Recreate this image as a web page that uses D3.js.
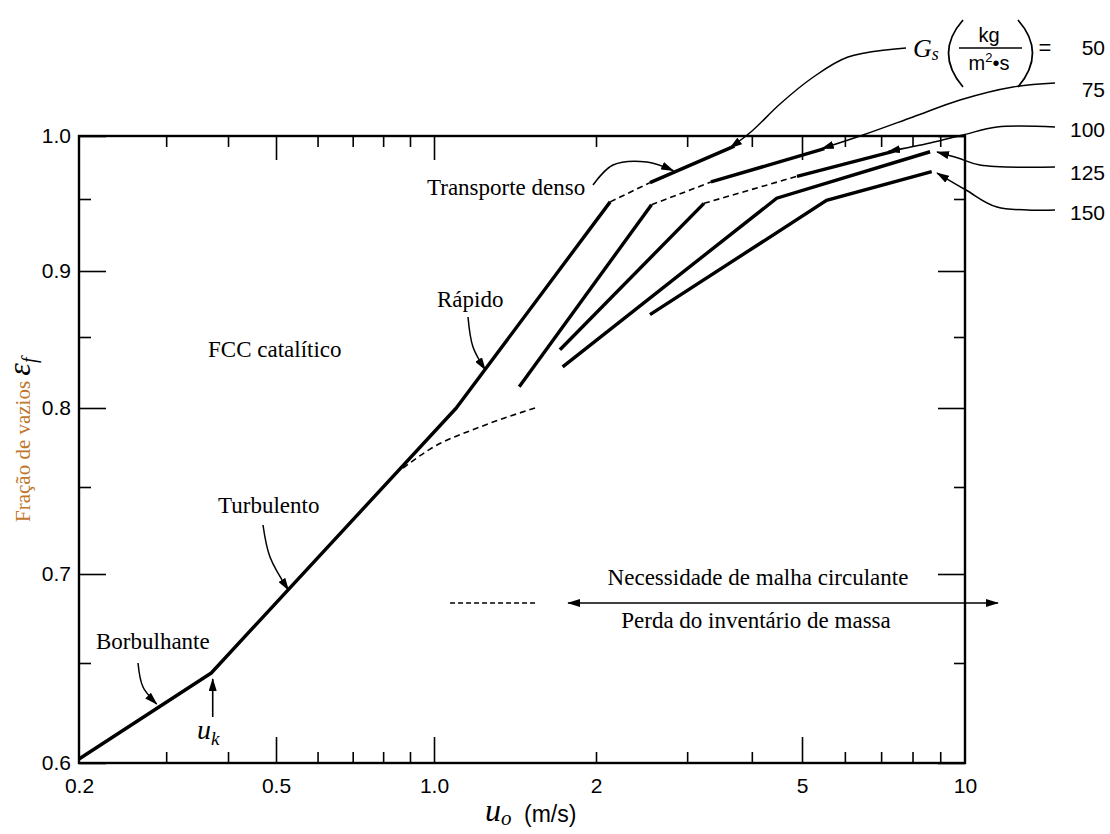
<!DOCTYPE html>
<html>
<head>
<meta charset="utf-8">
<script src="https://cdn.jsdelivr.net/npm/d3@7"></script>
<style>
  body { margin: 0; background: #fff; }
  svg { display: block; }
</style>
</head>
<body>
<svg id="chart" width="1110" height="834"></svg>
<script>
// ---- axis values ----
const uAnchors = [0.2, 0.5, 1, 2, 5, 10];
const uTickLabels = ["0.2", "0.5", "1.0", "2", "5", "10"];
const uTicksLong = [0.5, 1, 5];
const uTicksShort = [0.3, 0.4, 0.6, 0.7, 0.8, 0.9, 2, 3, 4, 6, 7, 8, 9];
const epsAnchors = [0.6, 0.65, 0.7, 0.75, 0.8, 0.85, 0.9, 0.95, 1.0];
const epsTicksLong = [0.6, 0.7, 0.8, 0.9, 1.0];
const epsTicksShort = [0.65, 0.75, 0.85, 0.95];
const epsTickLabels = ["0.6", "0.7", "0.8", "0.9", "1.0"];

// ---- main regime curve: bubbling -> turbulent -> fast (Gs = 50) ----
const mainU   = [0.2,   0.37,  1.1,  2.13];
const mainEps = [0.602, 0.645, 0.80, 0.948];

// ---- dashed branch leaving the turbulent line ----
const branchU   = [0.873, 0.983, 1.218, 1.541];
const branchEps = [0.762, 0.774, 0.788, 0.800];

// ---- solids circulation rate Gs (kg/m2 s) ----
const gsValues = [50, 75, 100, 125, 150];
// fast-fluidization (steep) segments
const fastU   = { 75: [1.44, 2.56],   100: [1.714, 3.233], 125: [1.734, 4.468], 150: [2.543, 5.55] };
const fastEps = { 75: [0.815, 0.946], 100: [0.841, 0.947], 125: [0.829, 0.9506], 150: [0.867, 0.949] };
// dashed transitions into dense transport
const transU   = { 50: [2.13, 2.543],  75: [2.56, 3.335],   100: [3.233, 4.89] };
const transEps = { 50: [0.948, 0.963], 75: [0.946, 0.9635], 100: [0.947, 0.968] };
// dense-transport (upper) segments
const denseU   = { 50: [2.543, 3.70],  75: [3.335, 5.5],   100: [4.89, 7.4],   125: [4.468, 8.62],   150: [5.55, 8.68] };
const denseEps = { 50: [0.963, 0.992], 75: [0.9635, 0.990], 100: [0.968, 0.988], 125: [0.9506, 0.9875], 150: [0.949, 0.9717] };
// where each Gs leader arrow touches its line
const gsTipU   = [3.63, 5.44, 7.21, 8.88, 8.88];
const gsTipEps = [0.9905, 0.990, 0.9877, 0.9873, 0.9706];

// ---- layout ----
const frame = { left: 79, right: 965, top: 136, bottom: 763 };
const xRange = [79, 276, 434, 596, 802, 965];
const yRange = [763, 663, 574, 487, 408, 337, 271, 199, 136];

const svg = d3.select("#chart");
svg.append("rect").attr("width", 1110).attr("height", 834).attr("fill", "#fff");

const x = d3.scaleLog().domain(uAnchors).range(xRange);
const y = d3.scaleLinear().domain(epsAnchors).range(yRange);

// arrowhead markers
const defs = svg.append("defs");
defs.append("marker")
  .attr("id", "head")
  .attr("viewBox", "0 0 13 8")
  .attr("refX", 12).attr("refY", 4)
  .attr("markerWidth", 13).attr("markerHeight", 8)
  .attr("markerUnits", "userSpaceOnUse")
  .attr("orient", "auto")
  .append("path").attr("d", "M0,0 L13,4 L0,8 Z").attr("fill", "#000");
defs.append("marker")
  .attr("id", "headStart")
  .attr("viewBox", "0 0 13 8")
  .attr("refX", 1).attr("refY", 4)
  .attr("markerWidth", 13).attr("markerHeight", 8)
  .attr("markerUnits", "userSpaceOnUse")
  .attr("orient", "auto")
  .append("path").attr("d", "M13,0 L0,4 L13,8 Z").attr("fill", "#000");

// ---- axes (ticks point into the plot) ----
const tickFont = "'Liberation Sans', Arial, sans-serif";
function styleAxis(g) {
  g.select(".domain").remove();
  g.selectAll(".tick line").attr("stroke", "#000").attr("stroke-width", 1.6);
  g.selectAll("text").attr("font-family", tickFont).attr("font-size", 21).attr("fill", "#000");
}
// bottom
svg.append("g").attr("transform", `translate(0,${frame.bottom})`)
  .call(d3.axisBottom(x).tickValues(uTicksShort).tickSize(-11).tickFormat("")).call(styleAxis);
svg.append("g").attr("transform", `translate(0,${frame.bottom})`)
  .call(d3.axisBottom(x).tickValues(uTicksLong).tickSize(-26).tickFormat("")).call(styleAxis);
svg.append("g").attr("transform", `translate(0,${frame.bottom})`)
  .call(d3.axisBottom(x).tickValues(uAnchors).tickSize(0).tickPadding(15)
    .tickFormat((d, i) => uTickLabels[i])).call(styleAxis);
// top
svg.append("g").attr("transform", `translate(0,${frame.top})`)
  .call(d3.axisTop(x).tickValues(uTicksShort).tickSize(-11).tickFormat("")).call(styleAxis);
svg.append("g").attr("transform", `translate(0,${frame.top})`)
  .call(d3.axisTop(x).tickValues(uTicksLong).tickSize(-24).tickFormat("")).call(styleAxis);
// left
svg.append("g").attr("transform", `translate(${frame.left},0)`)
  .call(d3.axisLeft(y).tickValues(epsTicksShort).tickSize(-12).tickFormat("")).call(styleAxis);
svg.append("g").attr("transform", `translate(${frame.left},0)`)
  .call(d3.axisLeft(y).tickValues(epsTicksLong).tickSize(-27).tickFormat("")).call(styleAxis);
svg.append("g").attr("transform", `translate(${frame.left},0)`)
  .call(d3.axisLeft(y).tickValues(epsTicksLong).tickSize(0).tickPadding(8)
    .tickFormat((d, i) => epsTickLabels[i])).call(styleAxis);
// right
svg.append("g").attr("transform", `translate(${frame.right},0)`)
  .call(d3.axisRight(y).tickValues(epsTicksShort).tickSize(-11).tickFormat("")).call(styleAxis);
svg.append("g").attr("transform", `translate(${frame.right},0)`)
  .call(d3.axisRight(y).tickValues(epsTicksLong).tickSize(-27).tickFormat("")).call(styleAxis);

// frame
svg.append("rect")
  .attr("x", frame.left).attr("y", frame.top)
  .attr("width", frame.right - frame.left).attr("height", frame.bottom - frame.top)
  .attr("fill", "none").attr("stroke", "#000").attr("stroke-width", 2.4);

// ---- curves ----
const line = d3.line().x(d => x(d[0])).y(d => y(d[1]));
const smooth = d3.line().x(d => x(d[0])).y(d => y(d[1])).curve(d3.curveMonotoneX);
const zipPts = (us, es) => us.map((u, i) => [u, es[i]]);
const curves = svg.append("g").attr("fill", "none").attr("stroke", "#000");

curves.append("path").attr("d", line(zipPts(mainU, mainEps)))
  .attr("stroke-width", 3.4).attr("stroke-linejoin", "round");
curves.append("path").attr("d", smooth(zipPts(branchU, branchEps)))
  .attr("stroke-width", 1.6).attr("stroke-dasharray", "6,4");

gsValues.forEach(g => {
  const bends = (g === 125 || g === 150);
  if (fastU[g] && !bends) {
    curves.append("path").attr("d", line(zipPts(fastU[g], fastEps[g])))
      .attr("stroke-width", 3.4);
  }
  if (transU[g]) {
    curves.append("path").attr("d", line(zipPts(transU[g], transEps[g])))
      .attr("stroke-width", 1.6).attr("stroke-dasharray", "6,4");
  }
  if (!bends) {
    curves.append("path").attr("d", line(zipPts(denseU[g], denseEps[g])))
      .attr("stroke-width", 3.4);
  }
});
// the 125 and 150 lines bend straight from fast into dense transport
[125, 150].forEach(g => {
  curves.append("path")
    .attr("d", line([[fastU[g][0], fastEps[g][0]], [fastU[g][1], fastEps[g][1]], [denseU[g][1], denseEps[g][1]]]))
    .attr("stroke-width", 3.4).attr("stroke-linejoin", "miter");
});

// ---- annotations ----
const serif = "'Liberation Serif', 'Times New Roman', serif";
const ann = svg.append("g");
const leader = d3.line().curve(d3.curveCatmullRom.alpha(0.5));
function arrowTo(pts, tipU, tipE) {
  const all = pts.concat([[x(tipU), y(tipE)]]);
  ann.append("path").attr("d", leader(all)).attr("fill", "none")
    .attr("stroke", "#000").attr("stroke-width", 1.5).attr("marker-end", "url(#head)");
}
function label(txt, px, py, opts = {}) {
  return ann.append("text").attr("x", px).attr("y", py)
    .attr("font-family", opts.family || serif).attr("font-size", opts.size || 23)
    .attr("text-anchor", opts.anchor || "start").attr("fill", opts.fill || "#000")
    .text(txt);
}

label("FCC catalítico", 208, 357);
label("Borbulhante", 96, 649);
arrowTo([[138, 663], [143, 687]], 0.287, 0.6295);
label("Turbulento", 218, 513);
arrowTo([[263, 525], [270, 557]], 0.528, 0.691);
label("Rápido", 437, 307);
arrowTo([[468, 317], [473, 347]], 1.245, 0.827);
label("Transporte denso", 427, 195);
arrowTo([[593, 185], [613, 165], [647, 162]], 2.82, 0.9725);

// u_k marker
ann.append("path")
  .attr("d", d3.line()([[x(0.3725), 717], [x(0.3725), y(0.642)]]))
  .attr("stroke", "#000").attr("stroke-width", 1.6).attr("marker-end", "url(#head)");
const uk = ann.append("text").attr("x", 197).attr("y", 739)
  .attr("font-family", serif).attr("font-style", "italic").attr("font-size", 28);
uk.append("tspan").text("u");
uk.append("tspan").attr("font-size", 19).attr("dy", 6).text("k");

// circulation / inventory note
ann.append("path").attr("d", d3.line()([[x(1.071), y(0.6837)], [x(1.541), y(0.6837)]]))
  .attr("stroke", "#000").attr("stroke-width", 1.6).attr("stroke-dasharray", "5,3");
ann.append("path").attr("d", d3.line()([[x(1.775), y(0.6837)], [x(11.5), y(0.6837)]]))
  .attr("stroke", "#000").attr("stroke-width", 1.6)
  .attr("marker-start", "url(#headStart)").attr("marker-end", "url(#head)");
label("Necessidade de malha circulante", 758, 585, { anchor: "middle" });
label("Perda do inventário de massa", 756, 628, { anchor: "middle" });

// Gs legend
const gsLabelY = [47, 89, 129, 172, 212];
const gsLeaders = [
  [[906, 48], [848, 57], [812, 78], [780, 104], [752, 131]],
  [[1055, 83], [1013, 87], [960, 100], [913, 117], [863, 135]],
  [[1055, 127], [997, 127], [963, 135], [930, 143]],
  [[1055, 167], [980, 165], [958, 158]],
  [[1055, 210], [997, 207], [966, 190]]
];
gsValues.forEach((g, i) => {
  arrowTo(gsLeaders[i], gsTipU[i], gsTipEps[i]);
  label(String(g), 1105, gsLabelY[i] + 8, { family: tickFont, size: 21, anchor: "end" });
});
const gsT = ann.append("text").attr("x", 913).attr("y", 57)
  .attr("font-family", serif).attr("font-style", "italic").attr("font-size", 26);
gsT.append("tspan").text("G");
gsT.append("tspan").attr("font-size", 18).attr("dy", 3).text("s");
// bracketed unit kg / (m2 s)
ann.append("path").attr("d", "M963,20 Q934,53 963,87").attr("fill", "none").attr("stroke", "#000").attr("stroke-width", 1.7);
ann.append("path").attr("d", "M1018,20 Q1047,53 1018,87").attr("fill", "none").attr("stroke", "#000").attr("stroke-width", 1.7);
ann.append("line").attr("x1", 959).attr("x2", 1022).attr("y1", 48).attr("y2", 48).attr("stroke", "#000").attr("stroke-width", 1.5);
label("kg", 989, 42, { family: tickFont, size: 20, anchor: "middle" });
const unitB = ann.append("text").attr("x", 989).attr("y", 70).attr("text-anchor", "middle")
  .attr("font-family", tickFont).attr("font-size", 20);
unitB.append("tspan").text("m");
unitB.append("tspan").attr("font-size", 13).attr("dy", -8).text("2");
unitB.append("tspan").attr("dy", 8).text("\u2022s");
label("=", 1045, 55, { family: tickFont, size: 22, anchor: "middle" });

// axis titles
const xt = ann.append("text").attr("x", 485).attr("y", 821)
  .attr("font-family", serif).attr("font-style", "italic").attr("font-size", 32);
xt.append("tspan").text("u");
xt.append("tspan").attr("font-size", 21).attr("dy", 4).text("o");
label("(m/s)", 524, 822, { family: tickFont, size: 23 });

const yt = ann.append("text").attr("transform", "translate(30,522) rotate(-90)")
  .attr("font-family", serif).attr("font-size", 21);
yt.append("tspan").attr("fill", "#c0772a").text("Fração de vazios ");
yt.append("tspan").attr("font-style", "italic").attr("font-size", 32).attr("fill", "#000").text("\u03b5");
yt.append("tspan").attr("font-style", "italic").attr("font-size", 20).attr("dy", 6).attr("fill", "#000").text("f");
</script>
</body>
</html>
